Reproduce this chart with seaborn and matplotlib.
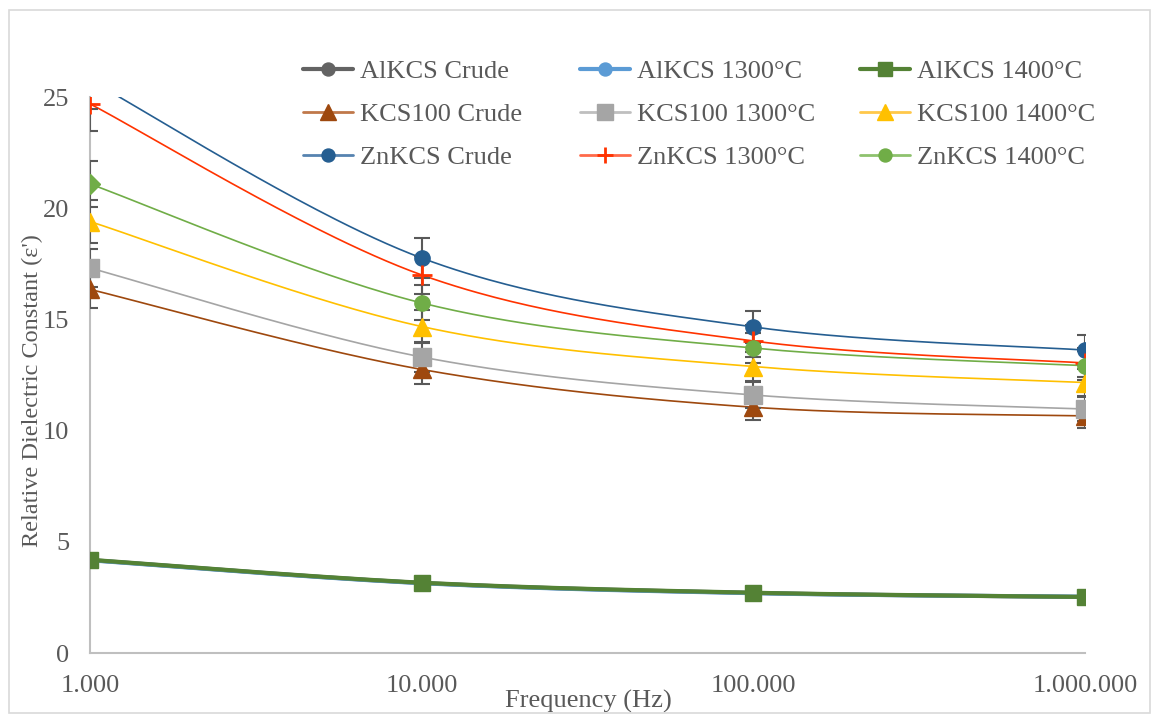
import numpy as np
import pandas as pd
import matplotlib
matplotlib.use("Agg")
import matplotlib.pyplot as plt
import seaborn as sns
from matplotlib.lines import Line2D
from matplotlib.patches import Rectangle

# ---------------- data ----------------
freq = [1000, 10000, 100000, 1000000]
x_tick_labels = ["1.000", "10.000", "100.000", "1.000.000"]
y_ticks = [0, 5, 10, 15, 20, 25]

series_names = ["AlKCS Crude", "AlKCS 1300°C", "AlKCS 1400°C",
                "KCS100 Crude", "KCS100 1300°C", "KCS100 1400°C",
                "ZnKCS Crude", "ZnKCS 1300°C", "ZnKCS 1400°C"]

alkcs_crude = [4.18, 3.15, 2.70, 2.52]
alkcs_1300 = [4.17, 3.14, 2.69, 2.53]
alkcs_1400 = [4.19, 3.16, 2.71, 2.52]
kcs100_crude = [16.35, 12.75, 11.05, 10.66]
kcs100_1300 = [17.31, 13.31, 11.60, 10.97]
kcs100_1400 = [19.40, 14.68, 12.88, 12.16]
znkcs_crude = [25.75, 17.76, 14.66, 13.62]
znkcs_1300 = [24.69, 17.00, 14.03, 13.04]
znkcs_1400 = [21.09, 15.74, 13.71, 12.92]
error_fraction = 0.05

values = [alkcs_crude, alkcs_1300, alkcs_1400,
          kcs100_crude, kcs100_1300, kcs100_1400,
          znkcs_crude, znkcs_1300, znkcs_1400]

# ---------------- styles ----------------
colors = ["#636363", "#5B9BD5", "#548235",
          "#9E480E", "#A5A5A5", "#FFC000",
          "#255E91", "#FF3300", "#70AD47"]
legend_line_colors = ["#636363", "#5B9BD5", "#548235",
                      "#C0784A", "#BFBFBF", "#FFC84A",
                      "#5683B0", "#FF6A4A", "#8EC26E"]
markers = ["o", "o", "s", "^", "s", "^", "o", "+", "o"]
msizes = [11, 11, 12, 13, 13, 13, 11, 14, 11]
lwidths = [3, 3, 3, 1.2, 1.2, 1.2, 1.2, 1.2, 1.2]

sns.set_theme(style="white")
plt.rcParams["font.family"] = ["Liberation Serif", "DejaVu Serif"]
text_color = "#595959"

W, H = 1153, 715
fig = plt.figure(figsize=(W / 100, H / 100), dpi=100)
ax = fig.add_axes([90 / W, 1 - 653 / H, (1085 - 90) / W, (653 - 97) / H])

# outer chart border
fig.patches.append(Rectangle((9 / W, 0.003), (1150 - 9) / W, (705 - 2) / H, transform=fig.transFigure,
                             fill=False, edgecolor="#D9D9D9", linewidth=1.2))

# Excel-like smoothing (Catmull-Rom Bezier) in screen-like space
def smooth(xs, ys, n=60):
    lx = np.log10(np.asarray(xs, float)) * 331.7
    ly = np.asarray(ys, float) * 22.24
    P = np.column_stack([lx, ly])
    out = []
    m = len(P)
    for i in range(m - 1):
        p0 = P[i - 1] if i > 0 else P[i]
        p1 = P[i]
        p2 = P[i + 1]
        p3 = P[i + 2] if i + 2 < m else P[i + 1]
        c1 = p1 + (p2 - p0) / 6.0
        c2 = p2 - (p3 - p1) / 6.0
        t = np.linspace(0, 1, n)[:, None]
        b = ((1 - t) ** 3) * p1 + 3 * ((1 - t) ** 2) * t * c1 + 3 * (1 - t) * t ** 2 * c2 + t ** 3 * p2
        if i > 0:
            b = b[1:]
        out.append(b)
    B = np.vstack(out)
    return 10 ** (B[:, 0] / 331.7), B[:, 1] / 22.24

rows = []
for name, vals in zip(series_names, values):
    sx, sy = smooth(freq, vals)
    for k, (a, b) in enumerate(zip(sx, sy)):
        rows.append({"freq": a, "eps": b, "series": name, "order": k})
curve_df = pd.DataFrame(rows)

for i, name in enumerate(series_names):
    sub = curve_df[curve_df["series"] == name]
    sns.lineplot(data=sub, x="freq", y="eps", color=colors[i], linewidth=lwidths[i],
                 sort=False, estimator=None, ax=ax, legend=False, zorder=2 + i * 0.01)

# markers and error bars
for i, (name, vals) in enumerate(zip(series_names, values)):
    err = [v * error_fraction for v in vals]
    ax.errorbar(freq, vals, yerr=err, fmt="none", ecolor="#595959", elinewidth=1.5,
                capsize=5.5, capthick=1.5, zorder=4 + i * 0.01)
    mk = markers[i]
    if mk == "+":
        ax.plot(freq, vals, linestyle="none", marker="+", markersize=msizes[i],
                markeredgewidth=2, color=colors[i], zorder=5 + i * 0.01)
    elif name == "ZnKCS 1400°C":
        ax.plot(freq[:1], vals[:1], linestyle="none", marker="D", markersize=10,
                color=colors[i], markeredgecolor=colors[i], zorder=5 + i * 0.01)
        ax.plot(freq[1:], vals[1:], linestyle="none", marker=mk, markersize=msizes[i],
                color=colors[i], markeredgecolor=colors[i], zorder=5 + i * 0.01)
    else:
        ax.plot(freq, vals, linestyle="none", marker=mk, markersize=msizes[i],
                color=colors[i], markeredgecolor=colors[i], zorder=5 + i * 0.01)

# axes
ax.set_xscale("log")
ax.set_xlim(1000, 1000000)
ax.set_ylim(0, 25)
ax.set_xticks(freq)
ax.set_xticklabels(x_tick_labels)
ax.xaxis.set_minor_locator(matplotlib.ticker.NullLocator())
ax.set_yticks(y_ticks)
ax.set_yticklabels([str(v) for v in y_ticks])
ax.tick_params(axis="both", length=0, labelsize=19, labelcolor=text_color)
ax.tick_params(axis="x", pad=16)
ax.tick_params(axis="y", pad=15)
for s in ["top", "right"]:
    ax.spines[s].set_visible(False)
for s in ["left", "bottom"]:
    ax.spines[s].set_color("#BFBFBF")
    ax.spines[s].set_linewidth(1.5)
ax.grid(False)
ax.set_xlabel("Frequency (Hz)", fontsize=19, color=text_color)
ax.xaxis.set_label_coords((588 - 90) / (1085 - 90), -(701 - 653) / (653 - 97))
ax.xaxis.label.set_va("center")
ax.set_ylabel("Relative Dielectric Constant (ε')", fontsize=17.5, color=text_color)
ax.yaxis.set_label_coords(-(90 - 32) / (1085 - 90), (653 - 391) / (653 - 97))
ax.yaxis.label.set_va("center")

handles = []
for i, name in enumerate(series_names):
    handles.append(Line2D([0], [0], color=legend_line_colors[i], linewidth=lwidths[i] if i < 3 else 2,
                          marker=markers[i], markersize=msizes[i] * 0.85,
                          markeredgewidth=2 if markers[i] == "+" else 1,
                          markerfacecolor=colors[i], markeredgecolor=colors[i]))

# three legend columns, placed like the original
col_x = [303, 580, 860]
col_members = [[0, 3, 6], [1, 4, 7], [2, 5, 8]]
for cx, members in zip(col_x, col_members):
    leg = fig.legend([handles[k] for k in members], [series_names[k] for k in members],
                     loc="upper left", bbox_to_anchor=(cx / W, 1 - 60 / H),
                     bbox_transform=fig.transFigure, frameon=False, fontsize=19,
                     handlelength=1.9, labelspacing=0.74, handletextpad=0.25,
                     borderpad=0, borderaxespad=0)
    for t in leg.get_texts():
        t.set_color(text_color)

fig.savefig("out.png", dpi=100)
